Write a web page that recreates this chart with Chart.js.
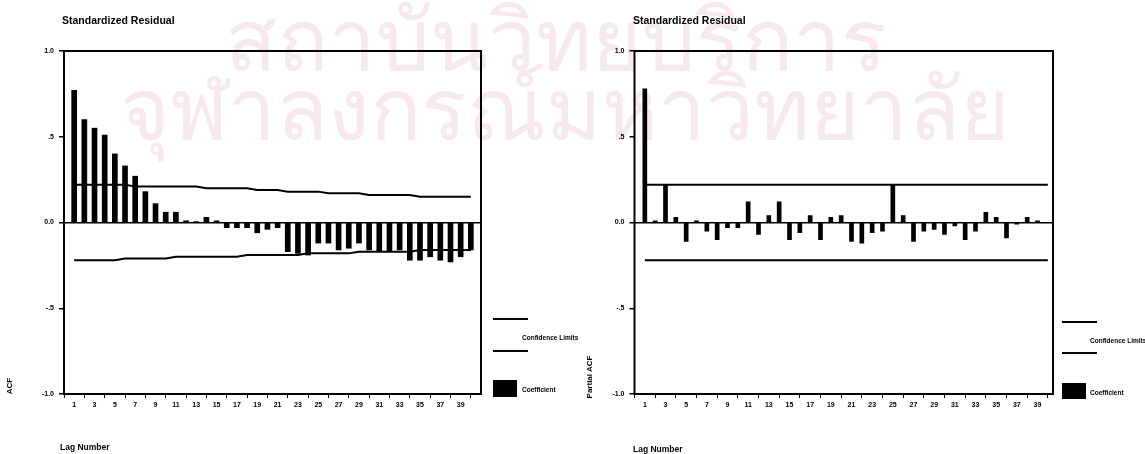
<!DOCTYPE html>
<html><head><meta charset="utf-8">
<script src="https://cdn.jsdelivr.net/npm/chart.js@4.4.1/dist/chart.umd.min.js"></script>
<style>
html,body{margin:0;padding:0;background:#fff;width:1145px;height:454px;overflow:hidden;position:relative;font-family:"Liberation Sans",Arial,sans-serif;}
.wm{position:absolute;color:#f8e8f0;font-size:85px;line-height:1;white-space:nowrap;font-family:"Noto Sans","DejaVu Sans",sans-serif;}
.cv{position:absolute;top:0;}
.t{position:absolute;font-weight:bold;color:#000;white-space:nowrap;line-height:1;}
.ln{position:absolute;background:#000;height:2px;width:35px;}
.bx{position:absolute;background:#000;}
.rot{position:absolute;font-weight:bold;white-space:nowrap;line-height:1;transform:translate(-50%,-50%) rotate(-90deg);}
</style></head><body>
<div class="wm" style="left:225px;top:-5px;">สถาบันวิทยบริการ</div>
<div class="wm" style="left:120px;top:64px;">จุฬาลงกรณ์มหาวิทยาลัย</div>
<canvas id="c1" class="cv" style="left:0" width="572" height="454"></canvas>
<canvas id="c2" class="cv" style="left:572px" width="573" height="454"></canvas>

<div class="t" style="left:62px;top:15px;font-size:10.5px;">Standardized Residual</div>
<div class="t" style="left:633px;top:15px;font-size:10.5px;">Standardized Residual</div>
<div class="rot" style="left:10px;top:386px;font-size:8px;">ACF</div>
<div class="rot" style="left:590px;top:377px;font-size:8px;">Partial ACF</div>
<div class="t" style="left:60px;top:443px;font-size:8.5px;">Lag Number</div>
<div class="t" style="left:633px;top:445px;font-size:8.5px;">Lag Number</div>

<div class="ln" style="left:493px;top:318px;"></div>
<div class="t" style="left:522px;top:335px;font-size:6.5px;">Confidence Limits</div>
<div class="ln" style="left:493px;top:350px;"></div>
<div class="bx" style="left:493px;top:380px;width:24px;height:17px;"></div>
<div class="t" style="left:522px;top:387px;font-size:6.5px;">Coefficient</div>

<div class="ln" style="left:1062px;top:321px;"></div>
<div class="t" style="left:1090px;top:338px;font-size:6.5px;">Confidence Limits</div>
<div class="ln" style="left:1062px;top:352px;"></div>
<div class="bx" style="left:1062px;top:383px;width:24px;height:16px;"></div>
<div class="t" style="left:1090px;top:390px;font-size:6.5px;">Coefficient</div>

<script>
const lags = [1,2,3,4,5,6,7,8,9,10,11,12,13,14,15,16,17,18,19,20,21,22,23,24,25,26,27,28,29,30,31,32,33,34,35,36,37,38,39,40];
const lagTickLabels = [1,3,5,7,9,11,13,15,17,19,21,23,25,27,29,31,33,35,37,39];
const yTickValues = [-1,-0.5,0,0.5,1];
const yTickLabels = ['-1.0','-.5','0.0','.5','1.0'];

const acfValues = [0.77,0.60,0.55,0.51,0.40,0.33,0.27,0.18,0.11,0.06,0.06,0.01,0.005,0.03,0.01,-0.03,-0.03,-0.03,-0.06,-0.04,
  -0.03,-0.17,-0.18,-0.19,-0.12,-0.12,-0.16,-0.15,-0.12,-0.16,-0.17,-0.17,-0.16,-0.22,-0.22,-0.20,-0.22,-0.23,-0.20,-0.16];
const acfUpper = [0.22,0.22,0.22,0.22,0.22,0.22,0.21,0.21,0.21,0.21,0.21,0.21,0.21,0.20,0.20,0.20,0.20,0.20,0.19,0.19,
  0.19,0.18,0.18,0.18,0.18,0.17,0.17,0.17,0.17,0.16,0.16,0.16,0.16,0.16,0.15,0.15,0.15,0.15,0.15,0.15];
const acfLower = [-0.22,-0.22,-0.22,-0.22,-0.22,-0.21,-0.21,-0.21,-0.21,-0.21,-0.20,-0.20,-0.20,-0.20,-0.20,-0.20,-0.20,-0.19,-0.19,-0.19,
  -0.19,-0.19,-0.19,-0.18,-0.18,-0.18,-0.18,-0.18,-0.17,-0.17,-0.17,-0.17,-0.17,-0.17,-0.16,-0.16,-0.16,-0.16,-0.16,-0.16];

const pacfValues = [0.78,0.01,0.22,0.03,-0.11,0.01,-0.05,-0.10,-0.03,-0.03,0.12,-0.07,0.04,0.12,-0.10,-0.06,0.04,-0.10,0.03,0.04,
  -0.11,-0.12,-0.06,-0.05,0.22,0.04,-0.11,-0.05,-0.04,-0.07,-0.02,-0.10,-0.05,0.06,0.03,-0.09,-0.01,0.03,0.01,0.0];
const pacfUpper = [0.22,0.22,0.22,0.22,0.22,0.22,0.22,0.22,0.22,0.22,0.22,0.22,0.22,0.22,0.22,0.22,0.22,0.22,0.22,0.22,
  0.22,0.22,0.22,0.22,0.22,0.22,0.22,0.22,0.22,0.22,0.22,0.22,0.22,0.22,0.22,0.22,0.22,0.22,0.22,0.22];
const pacfLower = [-0.22,-0.22,-0.22,-0.22,-0.22,-0.22,-0.22,-0.22,-0.22,-0.22,-0.22,-0.22,-0.22,-0.22,-0.22,-0.22,-0.22,-0.22,-0.22,-0.22,
  -0.22,-0.22,-0.22,-0.22,-0.22,-0.22,-0.22,-0.22,-0.22,-0.22,-0.22,-0.22,-0.22,-0.22,-0.22,-0.22,-0.22,-0.22,-0.22,-0.22];

const pts = arr => lags.map((l,i)=>({x:l,y:arr[i]}));
const tickFont = {family:'"Liberation Sans", Arial, sans-serif', size:7, weight:'bold'};

const framePlugin = {
  id:'frame',
  afterDatasetsDraw(chart){
    const a = chart.chartArea, c = chart.ctx;
    c.save(); c.strokeStyle='#000'; c.lineWidth=2;
    c.strokeRect(a.left, a.top, a.right-a.left, a.bottom-a.top);
    c.restore();
  }
};

function makeChart(id, vals, up, lo, cfg){
  return new Chart(document.getElementById(id), {
    type:'bar',
    data:{datasets:[
      {type:'line', data:pts(up), borderColor:'#000', borderWidth:2, pointRadius:0, tension:0, order:1},
      {type:'line', data:pts(lo), borderColor:'#000', borderWidth:2, pointRadius:0, tension:0, order:1},
      {type:'bar', data:pts(vals), backgroundColor:'#000', borderWidth:0, barThickness:cfg.bar, order:2}
    ]},
    options:{
      responsive:false, animation:false, devicePixelRatio:1,
      layout:{padding:{left:0, top:cfg.top, right:cfg.right, bottom:cfg.bottom}},
      plugins:{legend:{display:false}, tooltip:{enabled:false}, title:{display:false}},
      scales:{
        x:{type:'linear', min:0, max:cfg.xmax, offset:false,
          afterBuildTicks:s=>{ s.ticks = lagTickLabels.map(v=>({value:v})); },
          ticks:{font:tickFont, color:'#000', padding:3, maxRotation:0, autoSkip:false, callback:v=>String(v)},
          grid:{drawOnChartArea:false, drawTicks:true, tickLength:4, tickColor:'#000', tickWidth:1},
          border:{display:false},
          afterFit:s=>{ s.height = cfg.xh; }
        },
        y:{min:-1, max:1,
          afterBuildTicks:s=>{ s.ticks = yTickValues.map(v=>({value:v})); },
          ticks:{font:tickFont, color:'#000', padding:5, callback:(v)=>yTickLabels[yTickValues.indexOf(v)]},
          grid:{color:ctx=> (ctx.tick && ctx.tick.value===0) ? '#000' : 'rgba(0,0,0,0)', lineWidth:1.5,
            drawTicks:true, tickLength:5, tickColor:'#000', tickWidth:1.5},
          border:{display:false},
          afterFit:s=>{ s.width = cfg.yw; }
        }
      }
    },
    plugins:[framePlugin]
  });
}

makeChart('c1', acfValues, acfUpper, acfLower, {bar:5, top:51, right:91, bottom:30, xh:30, yw:64, xmax:41});
makeChart('c2', pacfValues, pacfUpper, pacfLower, {bar:4, top:51, right:92, bottom:30, xh:30, yw:62.5, xmax:40.5});
</script>
</body></html>
